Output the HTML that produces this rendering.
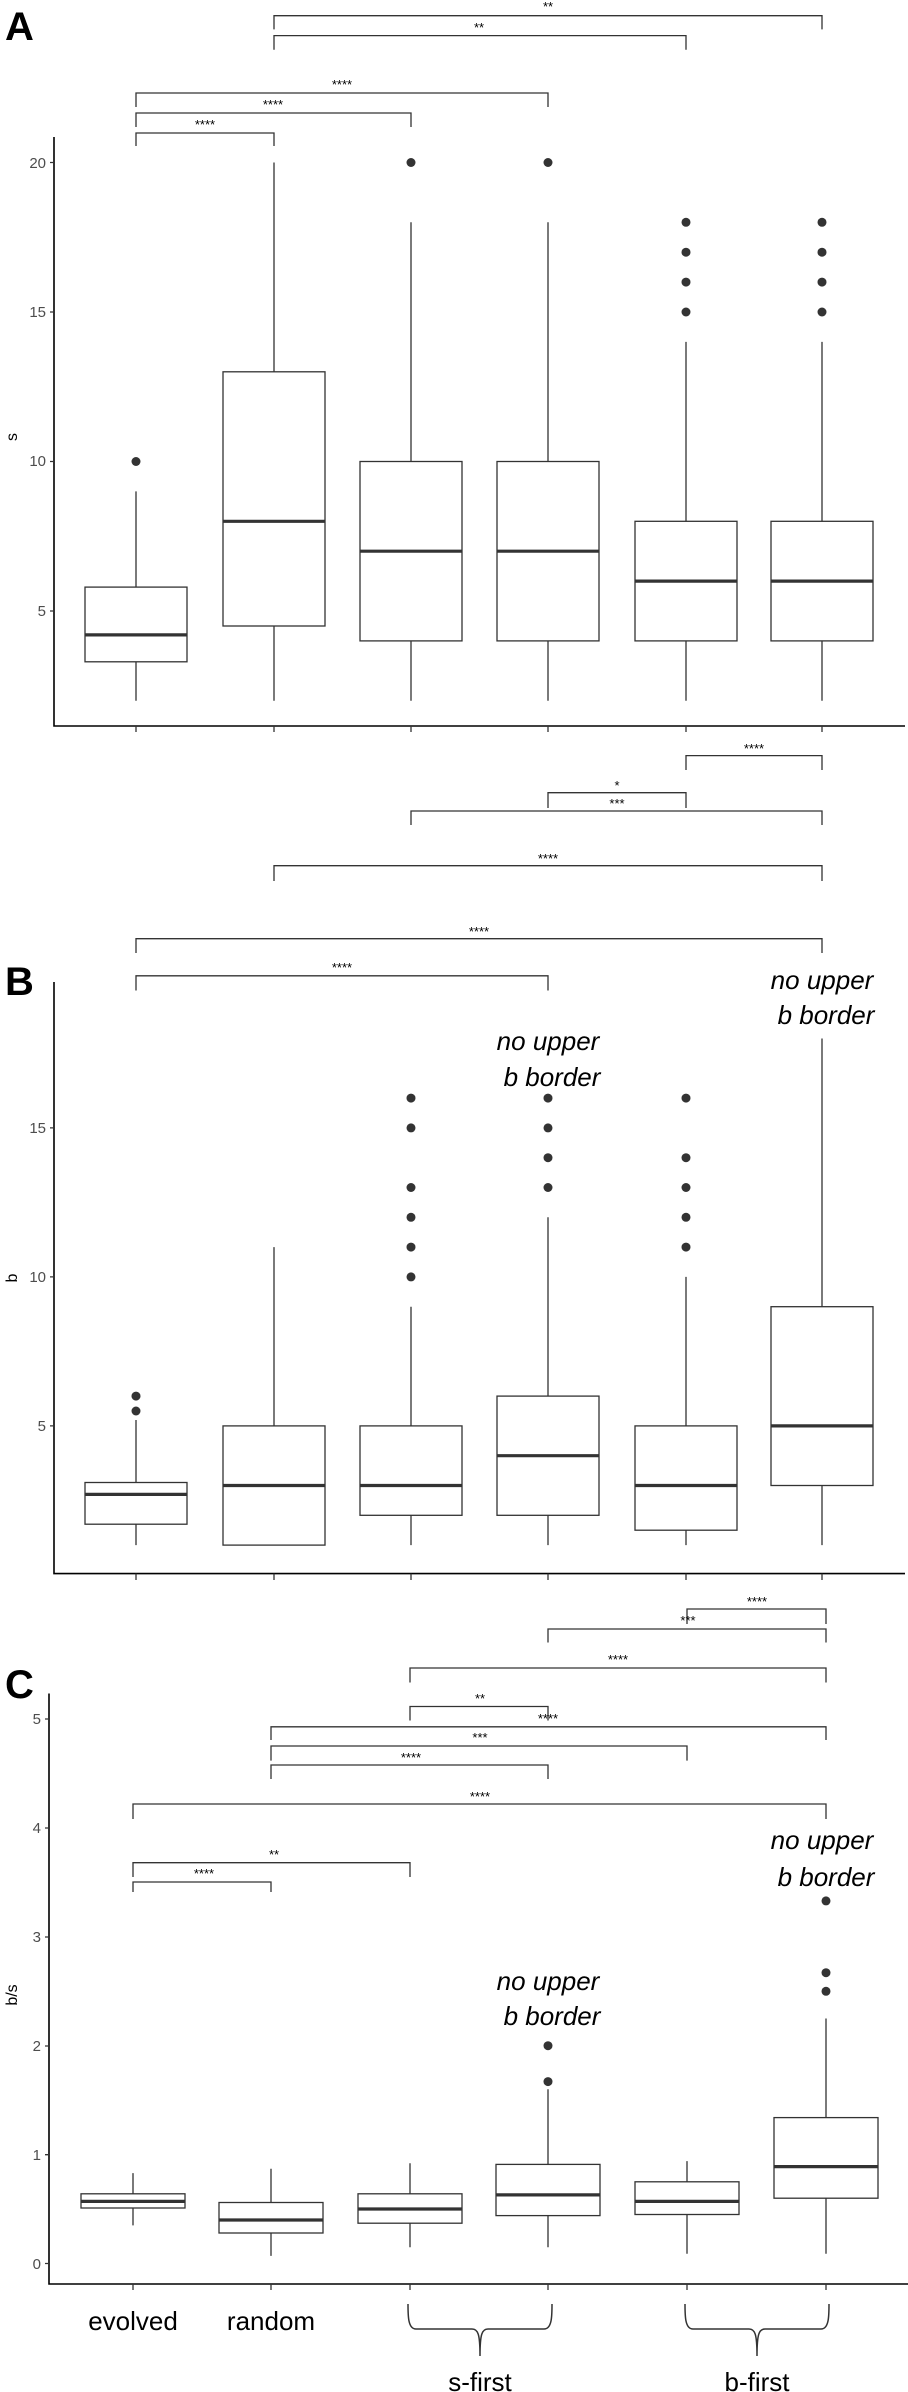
<!DOCTYPE html>
<html><head><meta charset="utf-8"><style>
html,body{margin:0;padding:0;background:#fff;}
svg{display:block;}
.t{font-family:"Liberation Sans",sans-serif;}
</style></head><body>
<svg width="908" height="2392" viewBox="0 0 908 2392" xmlns="http://www.w3.org/2000/svg">
<rect width="908" height="2392" fill="#fff"/>
<g fill="none" stroke="#333" stroke-width="1.3">
<!-- Panel A brackets -->
<path d="M274 29.4V15.7H822V29.4"/>
<path d="M274 49.8V35.6H686V49.8"/>
<path d="M136 107V93H548V107"/>
<path d="M136 127V113H411V127"/>
<path d="M136 146V133H274V146"/>
<!-- Panel A axes -->
<path d="M54 137V726H905" stroke="#000" stroke-width="1.6"/>
<path d="M50 162.5H54M50 312H54M50 461.5H54M50 611H54"/>
<path d="M136 726V732M274 726V732M411 726V732M548 726V732M686 726V732M822 726V732"/>
<!-- Panel A boxes -->
<rect x="85" y="587.1" width="102" height="74.7"/><path d="M136 661.8V700.7M136 587.1V491.4"/>
<rect x="223" y="371.8" width="102" height="254.2"/><path d="M274 626V700.7M274 371.8V162.5"/>
<rect x="360" y="461.5" width="102" height="179.4"/><path d="M411 640.9V700.7M411 461.5V222.3"/>
<rect x="497" y="461.5" width="102" height="179.4"/><path d="M548 640.9V700.7M548 461.5V222.3"/>
<rect x="635" y="521.3" width="102" height="119.6"/><path d="M686 640.9V700.7M686 521.3V341.9"/>
<rect x="771" y="521.3" width="102" height="119.6"/><path d="M822 640.9V700.7M822 521.3V341.9"/>
<g stroke-width="3.2"><path d="M85 634.9H187M223 521.3H325M360 551.2H462M497 551.2H599M635 581.1H737M771 581.1H873"/></g>

<!-- Panel B brackets -->
<path d="M686 770V755.6H822V770"/>
<path d="M548 808V792.7H686V808"/>
<path d="M411 825V811H822V825"/>
<path d="M274 881V865.7H822V881"/>
<path d="M136 953V938.7H822V953"/>
<path d="M136 990.5V975.8H548V990.5"/>
<path d="M54 982V1573.6H905" stroke="#000" stroke-width="1.6"/>
<path d="M50 1127.9H54M50 1276.9H54M50 1425.9H54"/>
<path d="M136 1573.6V1580M274 1573.6V1580M411 1573.6V1580M548 1573.6V1580M686 1573.6V1580M822 1573.6V1580"/>
<rect x="85" y="1482.5" width="102" height="41.7"/><path d="M136 1524.2V1545.1M136 1482.5V1420"/>
<rect x="223" y="1425.9" width="102" height="119.2"/><path d="M274 1425.9V1247.1"/>
<rect x="360" y="1425.9" width="102" height="89.4"/><path d="M411 1515.3V1545.1M411 1425.9V1306.7"/>
<rect x="497" y="1396.1" width="102" height="119.2"/><path d="M548 1515.3V1545.1M548 1396.1V1217.3"/>
<rect x="635" y="1425.9" width="102" height="104.3"/><path d="M686 1530.2V1545.1M686 1425.9V1276.9"/>
<rect x="771" y="1306.7" width="102" height="178.8"/><path d="M822 1485.5V1545.1M822 1306.7V1038.5"/>
<g stroke-width="3.2"><path d="M85 1494.4H187M223 1485.5H325M360 1485.5H462M497 1455.7H599M635 1485.5H737M771 1425.9H873"/></g>

<!-- Panel C brackets -->
<path d="M687 1624V1609H826V1624"/>
<path d="M548 1642.5V1629H826V1642.5"/>
<path d="M410 1682.5V1668H826V1682.5"/>
<path d="M410 1720.5V1706.5H548V1720.5"/>
<path d="M271 1740V1726.8H826V1740"/>
<path d="M271 1760.6V1746H687V1760.6"/>
<path d="M271 1779V1765H548V1779"/>
<path d="M133 1819V1804H826V1819"/>
<path d="M133 1877V1862.7H410V1877"/>
<path d="M133 1892V1882H271V1892"/>
<path d="M49 1693.5V2284H908" stroke="#000" stroke-width="1.6"/>
<path d="M45 1719H49M45 1828H49M45 1937H49M45 2046H49M45 2154.7H49M45 2263.5H49"/>
<path d="M133 2284V2290M271 2284V2290M410 2284V2290M548 2284V2290M687 2284V2290M826 2284V2290"/>
<rect x="81" y="2193.8" width="104" height="14.2"/><path d="M133 2208V2225.4M133 2193.8V2173.1"/>
<rect x="219" y="2202.5" width="104" height="30.5"/><path d="M271 2233V2255.9M271 2202.5V2168.8"/>
<rect x="358" y="2193.8" width="104" height="29.4"/><path d="M410 2223.2V2247.2M410 2193.8V2163.3"/>
<rect x="496" y="2164.4" width="104" height="51.2"/><path d="M548 2215.6V2247.2M548 2164.4V2089.3"/>
<rect x="635" y="2181.8" width="104" height="32.7"/><path d="M687 2214.5V2253.7M687 2181.8V2161.1"/>
<rect x="774" y="2117.6" width="104" height="80.6"/><path d="M826 2198.2V2253.7M826 2117.6V2018.5"/>
<g stroke-width="3.2"><path d="M81 2201.4H185M219 2220H323M358 2209H462M496 2194.9H600M635 2201.4H739M774 2166.6H878"/></g>
<!-- braces -->
<path d="M408 2304C408 2316 408 2329 416 2329H472C478 2329 480 2334 480 2356C480 2334 482 2329 488 2329H544C552 2329 552 2316 552 2304" stroke-width="1.5"/>
<path d="M685 2304C685 2316 685 2329 693 2329H749C755 2329 757 2334 757 2356C757 2334 759 2329 765 2329H821C829 2329 829 2316 829 2304" stroke-width="1.5"/>
</g>
<g fill="#333">
<circle cx="136" cy="461.5" r="4.5"/>
<circle cx="411" cy="162.5" r="4.5"/><circle cx="548" cy="162.5" r="4.5"/>
<circle cx="686" cy="312" r="4.5"/><circle cx="686" cy="282.1" r="4.5"/><circle cx="686" cy="252.2" r="4.5"/><circle cx="686" cy="222.3" r="4.5"/>
<circle cx="822" cy="312" r="4.5"/><circle cx="822" cy="282.1" r="4.5"/><circle cx="822" cy="252.2" r="4.5"/><circle cx="822" cy="222.3" r="4.5"/>
<circle cx="136" cy="1411" r="4.5"/><circle cx="136" cy="1396.1" r="4.5"/>
<circle cx="411" cy="1276.9" r="4.5"/><circle cx="411" cy="1247.1" r="4.5"/><circle cx="411" cy="1217.3" r="4.5"/><circle cx="411" cy="1187.5" r="4.5"/><circle cx="411" cy="1127.9" r="4.5"/><circle cx="411" cy="1098.1" r="4.5"/>
<circle cx="548" cy="1187.5" r="4.5"/><circle cx="548" cy="1157.7" r="4.5"/><circle cx="548" cy="1127.9" r="4.5"/><circle cx="548" cy="1098.1" r="4.5"/>
<circle cx="686" cy="1247.1" r="4.5"/><circle cx="686" cy="1217.3" r="4.5"/><circle cx="686" cy="1187.5" r="4.5"/><circle cx="686" cy="1157.7" r="4.5"/><circle cx="686" cy="1098.1" r="4.5"/>
<circle cx="548" cy="2081.6" r="4.5"/><circle cx="548" cy="2045.7" r="4.5"/>
<circle cx="826" cy="1991.3" r="4.5"/><circle cx="826" cy="1972.7" r="4.5"/><circle cx="826" cy="1900.9" r="4.5"/>
</g>
<g class="t" font-size="13" text-anchor="middle" fill="#000">
<text x="548" y="11">**</text><text x="479" y="32">**</text>
<text x="342" y="89">****</text><text x="273" y="109">****</text><text x="205" y="129">****</text>
<text x="754" y="753">****</text><text x="617" y="790">*</text><text x="617" y="808">***</text>
<text x="548" y="863">****</text><text x="479" y="936">****</text><text x="342" y="972">****</text>
<text x="757" y="1606">****</text><text x="688" y="1625">***</text><text x="618" y="1664">****</text>
<text x="480" y="1703">**</text><text x="548" y="1723">****</text><text x="480" y="1742">***</text>
<text x="411" y="1762">****</text><text x="480" y="1801">****</text><text x="274" y="1859">**</text>
<text x="204" y="1878">****</text>
</g>
<g class="t" font-size="15" text-anchor="end" fill="#4d4d4d">
<text x="46" y="168">20</text><text x="46" y="317">15</text><text x="46" y="466">10</text><text x="46" y="616">5</text>
<text x="46" y="1133">15</text><text x="46" y="1282">10</text><text x="46" y="1431">5</text>
<text x="41" y="1724">5</text><text x="41" y="1833">4</text><text x="41" y="1942">3</text><text x="41" y="2051">2</text><text x="41" y="2160">1</text><text x="41" y="2269">0</text>
</g>
<g class="t" font-size="16" fill="#000" text-anchor="middle">
<text transform="translate(17 437) rotate(-90)">s</text>
<text transform="translate(17 1278) rotate(-90)">b</text>
<text transform="translate(17 1995) rotate(-90)">b/s</text>
</g>
<g class="t" font-size="40" font-weight="bold" fill="#000">
<text x="5" y="40">A</text><text x="5" y="995">B</text><text x="5" y="1698">C</text>
</g>
<g class="t" font-size="26" font-style="italic" fill="#000" text-anchor="middle">
<text x="548" y="1050">no upper</text><text x="552" y="1086">b border</text>
<text x="822" y="989">no upper</text><text x="826" y="1024">b border</text>
<text x="548" y="1990">no upper</text><text x="552" y="2025">b border</text>
<text x="822" y="1849">no upper</text><text x="826" y="1886">b border</text>
</g>
<g class="t" font-size="26" fill="#000" text-anchor="middle">
<text x="133" y="2330">evolved</text><text x="271" y="2330">random</text>
<text x="480" y="2391">s-first</text><text x="757" y="2391">b-first</text>
</g>
</svg>
</body></html>
